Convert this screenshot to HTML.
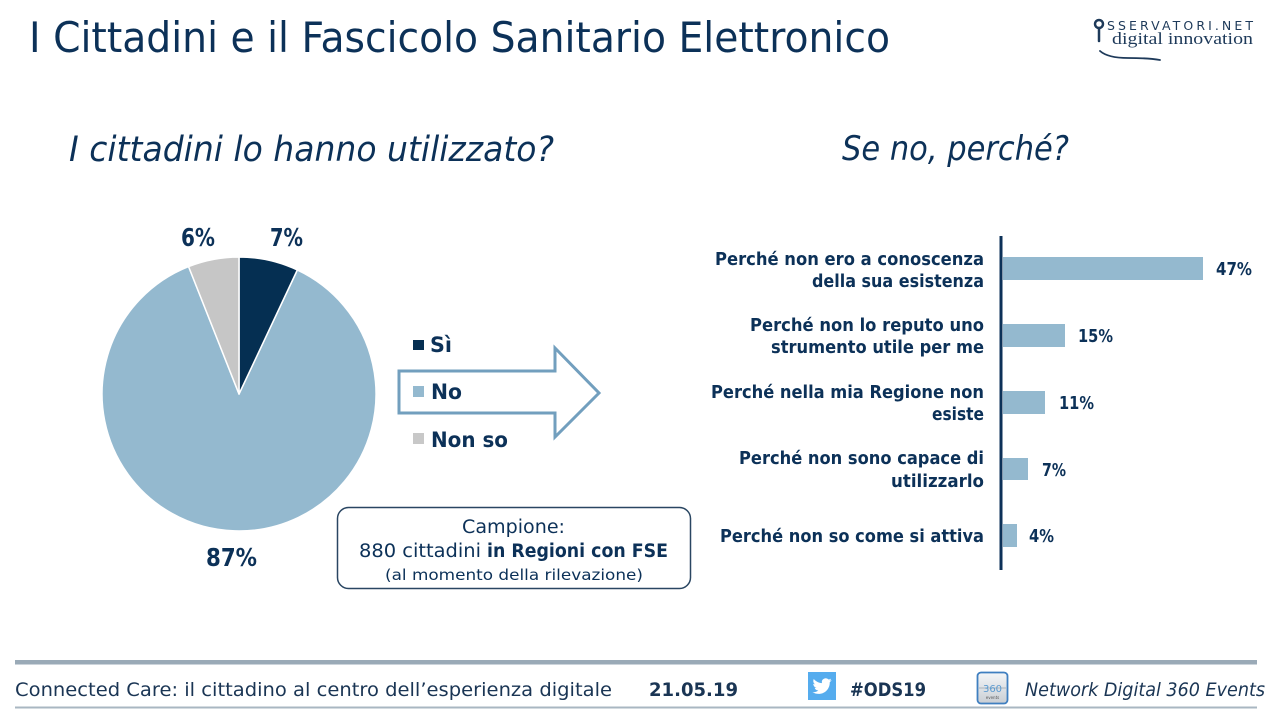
<!DOCTYPE html>
<html>
<head>
<meta charset="utf-8">
<style>
  html,body{margin:0;padding:0;background:#fff;}
  svg{display:block;}
  text{font-family:"DejaVu Sans","Liberation Sans",sans-serif;fill:#0c3158;}
</style>
</head>
<body>
<svg width="1280" height="711" viewBox="0 0 1280 711" xmlns="http://www.w3.org/2000/svg">
  <defs>
    <linearGradient id="g360" x1="0" y1="0" x2="0" y2="1">
      <stop offset="0" stop-color="#f4f6f8"/>
      <stop offset="1" stop-color="#c9ced4"/>
    </linearGradient>
  </defs>
  <rect width="1280" height="711" fill="#fff"/>

  <!-- Title -->
  <text x="29" y="52" font-size="42" textLength="861" lengthAdjust="spacingAndGlyphs">I Cittadini e il Fascicolo Sanitario Elettronico</text>

  <!-- Logo -->
  <circle cx="1099" cy="24" r="4" fill="none" stroke="#1e3a5a" stroke-width="2.5"/>
  <line x1="1099" y1="28" x2="1099" y2="41" stroke="#1e3a5a" stroke-width="2.5" stroke-linecap="round"/>
  <text x="1107" y="30" font-size="12.5" textLength="146" lengthAdjust="spacing" style="fill:#1e3a5a">SSERVATORI.NET</text>
  <text x="1112" y="44" font-size="17" textLength="141" lengthAdjust="spacingAndGlyphs" style="font-family:'Liberation Serif',serif;fill:#1e3a5a">digital innovation</text>
  <path d="M1100 51 Q1108 58 1128 58 Q1148 58 1160 60" fill="none" stroke="#1e3a5a" stroke-width="1.8" stroke-linecap="round"/>

  <!-- Subtitles -->
  <text x="69" y="161" font-size="35" font-style="italic" textLength="485" lengthAdjust="spacingAndGlyphs">I cittadini lo hanno utilizzato?</text>
  <text x="842" y="160" font-size="34" font-style="italic" textLength="227" lengthAdjust="spacingAndGlyphs">Se no, perché?</text>

  <!-- Pie -->
  <g stroke="#fff" stroke-width="1.5" stroke-linejoin="round">
    <path d="M239 394 L297.3 270.0 A137 137 0 1 1 188.6 266.6 Z" fill="#94b9cf"/>
    <path d="M239 394 L239 257 A137 137 0 0 1 297.3 270.0 Z" fill="#052f52"/>
    <path d="M239 394 L188.6 266.6 A137 137 0 0 1 239 257 Z" fill="#c6c6c6"/>
  </g>
  <text x="181" y="246" font-size="25" font-weight="bold" textLength="34" lengthAdjust="spacingAndGlyphs">6%</text>
  <text x="270" y="246" font-size="25" font-weight="bold" textLength="33" lengthAdjust="spacingAndGlyphs">7%</text>
  <text x="206" y="566" font-size="25" font-weight="bold" textLength="51" lengthAdjust="spacingAndGlyphs">87%</text>

  <!-- Arrow -->
  <polygon points="399,371 555,371 555,348 599,393 555,437 555,413 399,413" fill="#fff" stroke="#729fbe" stroke-width="3" stroke-linejoin="miter"/>

  <!-- Legend -->
  <rect x="413" y="340" width="11" height="10" fill="#062f52"/>
  <text x="430" y="352" font-size="21" font-weight="bold" textLength="22" lengthAdjust="spacingAndGlyphs">Sì</text>
  <rect x="413" y="386" width="11" height="11" fill="#94b9cf"/>
  <text x="431" y="399" font-size="21" font-weight="bold" textLength="31" lengthAdjust="spacingAndGlyphs">No</text>
  <rect x="413" y="433" width="11" height="11" fill="#c8c8c8"/>
  <text x="431" y="447" font-size="21" font-weight="bold" textLength="77" lengthAdjust="spacingAndGlyphs">Non so</text>

  <!-- Campione box -->
  <rect x="337.5" y="507.5" width="353" height="81" rx="11" ry="11" fill="#fff" stroke="#2a4662" stroke-width="1.5"/>
  <text x="462" y="533" font-size="18.5" textLength="103" lengthAdjust="spacingAndGlyphs">Campione:</text>
  <text x="359" y="557" font-size="18.5" textLength="122" lengthAdjust="spacingAndGlyphs">880 cittadini</text>
  <text x="487" y="557" font-size="18.5" font-weight="bold" textLength="181" lengthAdjust="spacingAndGlyphs">in Regioni con FSE</text>
  <text x="385" y="580" font-size="15.5" textLength="258" lengthAdjust="spacingAndGlyphs">(al momento della rilevazione)</text>

  <!-- Bar chart -->
  <line x1="1001" y1="236" x2="1001" y2="570" stroke="#0c3158" stroke-width="3"/>
  <g fill="#94b9cf">
    <rect x="1003" y="257" width="200" height="23"/>
    <rect x="1003" y="324" width="62" height="23"/>
    <rect x="1003" y="391" width="42" height="23"/>
    <rect x="1003" y="458" width="25" height="22"/>
    <rect x="1003" y="524" width="14" height="23"/>
  </g>
  <g font-size="18" font-weight="bold">
    <text x="1216" y="275" textLength="36" lengthAdjust="spacingAndGlyphs">47%</text>
    <text x="1078" y="342" textLength="35" lengthAdjust="spacingAndGlyphs">15%</text>
    <text x="1059" y="409" textLength="35" lengthAdjust="spacingAndGlyphs">11%</text>
    <text x="1042" y="476" textLength="24" lengthAdjust="spacingAndGlyphs">7%</text>
    <text x="1029" y="542" textLength="25" lengthAdjust="spacingAndGlyphs">4%</text>
  </g>
  <g font-size="18" font-weight="bold" text-anchor="end">
    <text x="984" y="265" textLength="269" lengthAdjust="spacingAndGlyphs">Perché non ero a conoscenza</text>
    <text x="984" y="287" textLength="172" lengthAdjust="spacingAndGlyphs">della sua esistenza</text>
    <text x="984" y="331" textLength="234" lengthAdjust="spacingAndGlyphs">Perché non lo reputo uno</text>
    <text x="984" y="353" textLength="213" lengthAdjust="spacingAndGlyphs">strumento utile per me</text>
    <text x="984" y="398" textLength="273" lengthAdjust="spacingAndGlyphs">Perché nella mia Regione non</text>
    <text x="984" y="420" textLength="52" lengthAdjust="spacingAndGlyphs">esiste</text>
    <text x="984" y="464" textLength="245" lengthAdjust="spacingAndGlyphs">Perché non sono capace di</text>
    <text x="984" y="487" textLength="93" lengthAdjust="spacingAndGlyphs">utilizzarlo</text>
    <text x="984" y="542" textLength="264" lengthAdjust="spacingAndGlyphs">Perché non so come si attiva</text>
  </g>

  <!-- Footer -->
  <rect x="15" y="660" width="1242" height="4.5" fill="#9aaab7"/>
  <rect x="15" y="706.5" width="1242" height="2" fill="#a9b7c2"/>
  <text x="15" y="696" font-size="19" textLength="597" lengthAdjust="spacingAndGlyphs" style="fill:#1a3554">Connected Care: il cittadino al centro dell’esperienza digitale</text>
  <text x="649" y="696" font-size="19" font-weight="bold" textLength="89" lengthAdjust="spacingAndGlyphs" style="fill:#1a3554">21.05.19</text>

  <rect x="808" y="672" width="28" height="28" fill="#55acee"/>
  <g transform="translate(812.5,676.5) scale(0.8)">
    <path fill="#fff" d="M23.953 4.57a10 10 0 01-2.825.775 4.958 4.958 0 002.163-2.723c-.951.555-2.005.959-3.127 1.184a4.92 4.92 0 00-8.384 4.482C7.69 8.095 4.067 6.130 1.64 3.162a4.822 4.822 0 00-.666 2.475c0 1.71.87 3.213 2.188 4.096a4.904 4.904 0 01-2.228-.616v.06a4.923 4.923 0 003.946 4.827 4.996 4.996 0 01-2.212.085 4.936 4.936 0 004.604 3.417 9.867 9.867 0 01-6.102 2.105c-.39 0-.779-.023-1.17-.067a13.995 13.995 0 007.557 2.209c9.053 0 13.998-7.496 13.998-13.985 0-.21 0-.42-.015-.63A9.935 9.935 0 0024 4.59z"/>
  </g>
  <text x="850" y="696" font-size="19" font-weight="bold" textLength="76" lengthAdjust="spacingAndGlyphs" style="fill:#1a3554">#ODS19</text>

  <rect x="977.5" y="672.5" width="30" height="31" rx="3.5" fill="url(#g360)" stroke="#3f7fc0" stroke-width="1.8"/>
  <line x1="979" y1="688" x2="1006" y2="688" stroke="#9aa3ad" stroke-width="0.8"/>
  <text x="992.5" y="692" font-size="10" text-anchor="middle" style="fill:#5a9ad0">360</text>
  <text x="992.5" y="699" font-size="4" text-anchor="middle" style="fill:#555">events</text>
  <text x="1025" y="696" font-size="19" font-style="italic" textLength="240" lengthAdjust="spacingAndGlyphs" style="fill:#1a3554">Network Digital 360 Events</text>
</svg>
</body>
</html>
